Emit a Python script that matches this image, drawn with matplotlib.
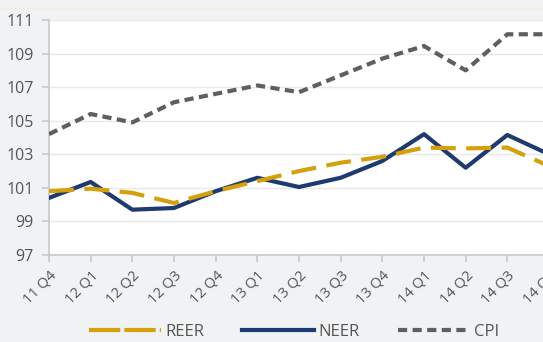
import matplotlib
matplotlib.use("Agg")
import matplotlib.pyplot as plt
from matplotlib.lines import Line2D

categories = ["11 Q4", "12 Q1", "12 Q2", "12 Q3", "12 Q4", "13 Q1", "13 Q2",
              "13 Q3", "13 Q4", "14 Q1", "14 Q2", "14 Q3", "14 Q4"]
reer = [100.8, 100.95, 100.7, 100.1, 100.8, 101.4, 102.0, 102.5, 102.85, 103.4, 103.35, 103.4, 102.3]
neer = [100.4, 101.35, 99.7, 99.8, 100.8, 101.6, 101.05, 101.6, 102.6, 104.2, 102.2, 104.15, 103.0]
cpi = [104.2, 105.4, 104.9, 106.1, 106.6, 107.1, 106.7, 107.7, 108.7, 109.45, 108.0, 110.15, 110.15]
yticks = [97, 99, 101, 103, 105, 107, 109, 111]

plt.rcParams['font.family'] = ['Open Sans', 'DejaVu Sans']

W, H = 543, 342
fig = plt.figure(figsize=(W / 100, H / 100), dpi=100)
fig.patch.set_facecolor("#f1f2f4")

x0, x1 = 49, 549
y0, y1 = 255, 20
ax = fig.add_axes([x0 / W, (H - y0) / H, (x1 - x0) / W, (y0 - y1) / H])
ax.set_facecolor("white")

# faint top line
fig.add_artist(Line2D([0, 1], [1 - 8 / H, 1 - 8 / H], color="#f7f0d0", lw=1))

xs = list(range(len(categories)))
gold = "#d4a00e"
navy = "#1e3a6e"
gray = "#5f5f5f"

ax.plot(xs, cpi, color=gray, lw=3, dashes=(2.2, 1.3), solid_capstyle="butt", label="CPI", zorder=3)
ax.plot(xs, neer, color=navy, lw=3, label="NEER", zorder=4)
ax.plot(xs, reer, color=gold, lw=3, dashes=(6, 2.5), label="REER", zorder=5)

ax.set_xlim(0, 12)
ax.set_ylim(97, 111)
ax.set_yticks(yticks)
ax.set_yticklabels([str(v) for v in yticks])
ax.set_xticks(xs)
ax.set_xticklabels(categories, rotation=45, ha="right", rotation_mode="anchor")

ax.grid(axis="y", color="#e9e9e9", lw=1)
ax.set_axisbelow(True)
for s in ["top", "right"]:
    ax.spines[s].set_visible(False)
for s in ["left", "bottom"]:
    ax.spines[s].set_color("#c8c8c8")
    ax.spines[s].set_linewidth(1.2)
ax.tick_params(axis="both", colors="#c8c8c8", length=5, width=1.2, labelcolor="#555555")
ax.tick_params(axis="y", labelsize=11.5, pad=6)
ax.tick_params(axis="x", labelsize=10.5, pad=4)

# legend handles with their own dash patterns
h_reer = Line2D([], [], color=gold, lw=3, dashes=(7.5, 1.0))
h_neer = Line2D([], [], color=navy, lw=3)
h_cpi = Line2D([], [], color=gray, lw=3, dashes=(2.2, 1.3))
leg = fig.legend([h_reer, h_neer, h_cpi], ["REER", "NEER", "CPI"], loc="center",
                 bbox_to_anchor=(294 / W, 1 - 332 / H),
                 ncol=3, frameon=False, fontsize=12, handlelength=4.3, columnspacing=2.3,
                 handletextpad=0.25, labelcolor="#555555")

fig.savefig("out.png", dpi=100, facecolor=fig.get_facecolor())
